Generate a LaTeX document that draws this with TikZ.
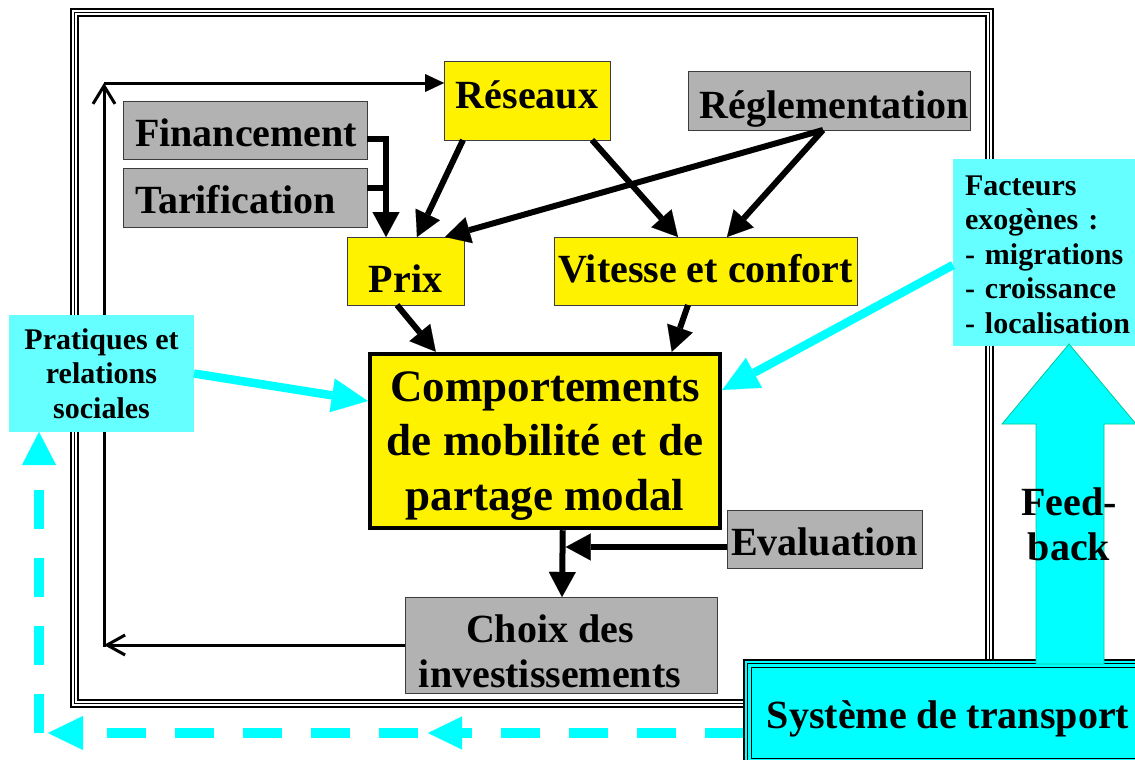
\documentclass[tikz,border=0pt]{standalone}
\usepackage{fontspec}
\setmainfont{Liberation Serif}
\usetikzlibrary{arrows.meta,calc}
\pgfdeclarelayer{bg}
\pgfsetlayers{bg,main}
\definecolor{boxgray}{HTML}{B2B2B2}
\definecolor{boxedge}{HTML}{3C3C3C}
\definecolor{lcyan}{HTML}{66FFFF}
\definecolor{acyan}{HTML}{00FFFF}
\definecolor{fbedge}{HTML}{00C896}
\newcommand\dgBig{\fontsize{40}{45}\selectfont\bfseries}
\newcommand\dgHuge{\fontsize{45}{54.5}\selectfont\bfseries}
\newcommand\dgSmall{\fontsize{30}{34.5}\selectfont\bfseries}
\begin{document}
\begin{tikzpicture}[x=1pt,y=-1pt,
  every node/.style={inner sep=0pt,outer sep=0pt},
  basel/.style={text depth=0pt,text height=#1},
  graybox/.style={rectangle,fill=boxgray,draw=boxedge,line width=1pt,font=\dgBig},
  yelbox/.style={rectangle,fill=yellow,draw=boxedge,line width=1pt,font=\dgBig},
  cyanbox/.style={rectangle,fill=lcyan,font=\dgSmall},
  blk/.style={line width=6pt,draw=black},
  blkarrow/.style={blk,-{Triangle[length=25pt,width=27pt,line width=0.1pt]}},
  thinline/.style={line width=3pt,draw=black},
  cyanarrow/.style={line width=8.5pt,draw=acyan,-{Triangle[length=36pt,width=34pt,line width=0.1pt]}},
  cyandash/.style={line width=9.5pt,draw=acyan,dash pattern=on 39pt off 29pt},
  framerule/.style={line width=1.6pt,draw=black},
]
\useasboundingbox (0,0) rectangle (1135,760);

% ---------- boxes ----------
\node[graybox,basel=32pt,minimum width=244pt,minimum height=58pt,text width=220pt,align=left] (fin) at (245,130) {Financement};
\node[graybox,basel=31pt,minimum width=244pt,minimum height=59pt,text width=220pt,align=left] (tar) at (245,197.5) {Tarification};
\node[yelbox,basel=14pt,minimum width=166pt,minimum height=78pt] (res) at (527,101) {Réseaux};
\node[graybox,basel=34pt,minimum width=282pt,minimum height=58pt] (reg) at (829,101) {\hspace*{10pt}Réglementation};
\node[yelbox,basel=42pt,minimum width=117pt,minimum height=68pt] (prix) at (405.5,271) {Prix};
\node[yelbox,basel=22pt,minimum width=303pt,minimum height=68pt] (vit) at (705.5,271) {Vitesse et confort};
\node[rectangle,fill=yellow,draw=black,line width=4.5pt,outer sep=2.25pt,font=\dgHuge,align=center,text depth=0pt,minimum width=350pt,minimum height=174pt] (comp) at (545,441) {Comportements\\de mobilité et de\\partage modal};
\node[graybox,basel=32pt,minimum width=195pt,minimum height=58pt] (eval) at (824.5,539) {Evaluation};
\node[graybox,basel=84pt,minimum width=312pt,minimum height=96pt] (choix) at (561,645) {\begin{tabular}[b]{@{}c@{}}Choix des\\investissements\end{tabular}\hspace*{22pt}};
\node[cyanbox,basel=89pt,minimum width=185pt,minimum height=117pt,align=center] (pra) at (101.5,373.5) {Pratiques et\\relations\\sociales};
\node[cyanbox,text height=0pt,text depth=115pt,anchor=west,inner xsep=12pt,text width=170pt,align=left,minimum height=187pt] (fac) at (953,252.5) {Facteurs\\exogènes :\\- migrations\\- croissance\\- localisation};
\node[rectangle,fill=acyan,draw=black,line width=1.2pt,font=\dgBig,basel=30pt,minimum width=408pt,minimum height=106pt] (sys) at (948,713) {Système de transport};
\draw[line width=1pt] ($(sys.north west)+(3.5,3.5)$) rectangle ($(sys.south east)+(-3.5,-3.5)$);
\draw[line width=1.3pt] ($(sys.north west)+(7.5,7.5)$) rectangle ($(sys.south east)+(-7.5,-7.5)$);

% ---------- background: frame, loop, dashed feedback ----------
\begin{pgfonlayer}{bg}
\draw[framerule] (71,9) rectangle (993,707);
\draw[framerule] (74.5,12.5) rectangle (989.5,703.5);
\draw[framerule] (78,16) rectangle (986,700);
\coordinate (lc) at (104,645);
\coordinate (lt) at (104,83);
\draw[thinline,-{Straight Barb[length=18pt,width=20pt]}] (choix.west) -- (lc);
\draw[thinline,-{Straight Barb[length=18pt,width=22pt]}] ($(lc)+(0,1.5)$) -- (lt);
\draw[thinline,-{Triangle[length=19pt,width=18pt,line width=0.1pt]}] (lt) -- (lt -| res.west);
\coordinate (dstart) at ($(sys.west)+(0,20)$);
\coordinate (dmid) at (428,733);
\coordinate (dleft) at (48,733);
\coordinate (dcorner) at (39,733);
\draw[cyandash,-{Triangle[length=34pt,width=33pt,line width=0.1pt]}] (dstart) -- (dmid);
\draw[cyandash,dash phase=58pt,-{Triangle[length=35pt,width=34pt,line width=0.1pt]}] (dmid) -- (dleft);
\draw[cyandash,-{Triangle[length=33pt,width=34pt,line width=0.1pt]}] (dcorner) -- (dcorner |- pra.south);
\end{pgfonlayer}

% ---------- black arrows ----------
\coordinate (jn) at ($(prix.north west)+(39,0)$);
\coordinate (finout) at ($(fin.east)+(0,9)$);
\coordinate (tarout) at ($(tar.east)+(0,-9.5)$);
\draw[blkarrow] (finout) -| (jn);
\draw[blk] (tarout) -- (tarout -| jn);
\draw[blkarrow] ($(res.south west)+(19,0)$) -- ($(prix.north west)+(70,0)$);
\draw[blkarrow] ($(res.south west)+(148,0)$) -- ($(vit.north west)+(124,0)$);
\coordinate (rego) at ($(reg.south west)+(135,0)$);
\draw[blkarrow] (rego) -- ($(prix.north west)+(98,0)$);
\draw[blkarrow] (rego) -- ($(vit.north west)+(173,0)$);
\draw[blkarrow] ($(prix.south west)+(50,0)$) -- ($(comp.north west)+(68,0)$);
\draw[blkarrow] ($(vit.south west)+(134,0)$) -- ($(comp.north west)+(304,0)$);
\draw[blkarrow] ($(comp.south west)+(195,0)$) -- ($(choix.north west)+(157,0)$);
\coordinate (cj) at ($(comp.south west)+(198,0)$);
\coordinate (evo) at ($(eval.west)+(0,8)$);
\draw[blkarrow] (evo) -- (evo -| cj);

% ---------- cyan arrows ----------
\draw[cyanarrow] (pra.east) -- ($(comp.west)+(0,-40)$);
\draw[cyanarrow] ($(fac.west)+(0,12.5)$) -- ($(comp.east)+(0,-51)$);

% ---------- feedback block arrow ----------
\filldraw[fill=acyan,draw=fbedge,line width=0.8pt] (1036,664) -- (1036,424) -- (1002,424) -- (1069,344) -- (1136,424) -- (1104,424) -- (1104,664) -- cycle;
\node[font=\dgBig,align=center,basel=72pt] (fb) at (1069,524) {Feed-\\back};
\end{tikzpicture}
\end{document}
